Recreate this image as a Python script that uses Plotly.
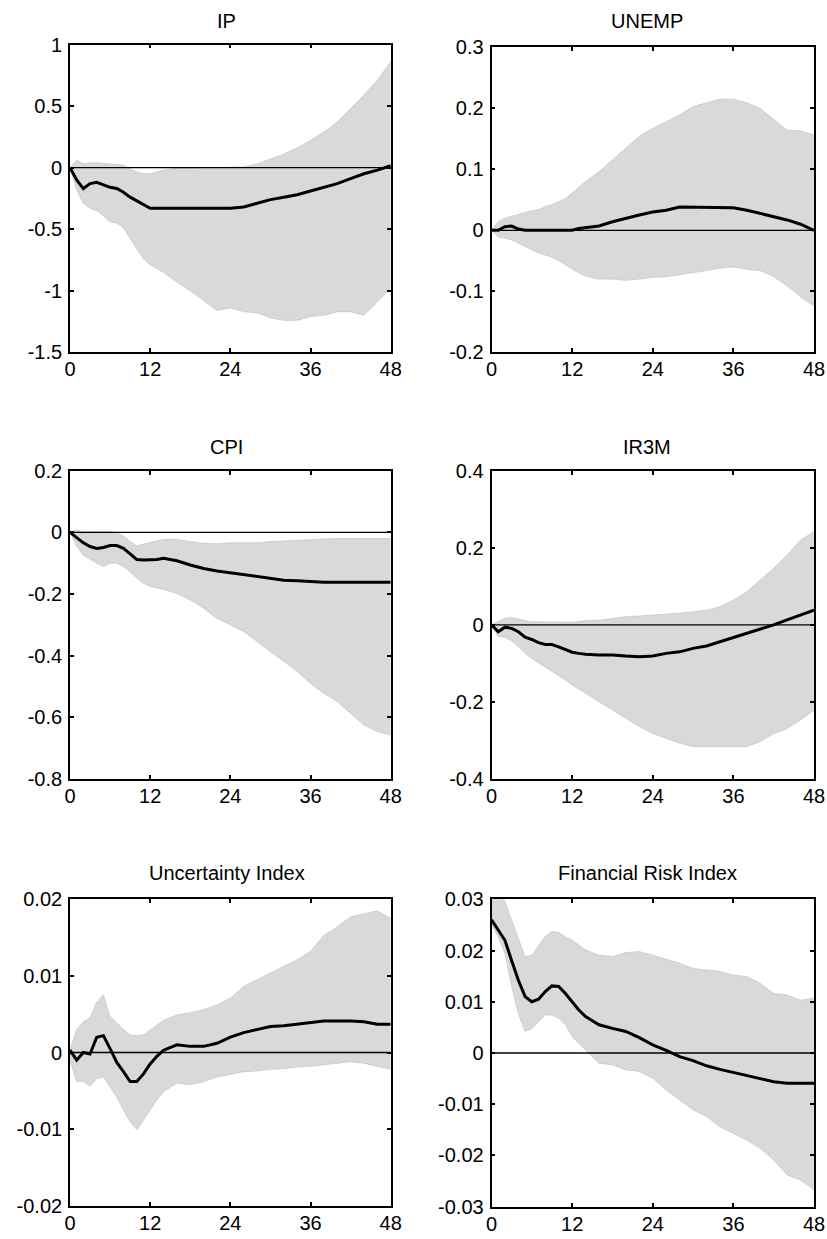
import plotly.graph_objects as go

# Forecast horizon (months)
HORIZON = list(range(0, 15)) + list(range(16, 49, 2))

# ---- IP ----
IP_IRF = [0, -0.10, -0.17, -0.13, -0.12, -0.14, -0.16, -0.17, -0.20, -0.24, -0.27, -0.30, -0.33, -0.33, -0.33,
          -0.33, -0.33, -0.33, -0.33, -0.33, -0.32, -0.29, -0.26, -0.24, -0.22, -0.19, -0.16, -0.13, -0.09, -0.05, -0.02, 0.015]
IP_UP = [0, 0.06, 0.03, 0.04, 0.04, 0.035, 0.03, 0.025, 0.02, -0.01, -0.035, -0.05, -0.05, -0.035, -0.02,
         -0.005, 0.0, 0.0, 0.0, 0.0, 0.005, 0.03, 0.07, 0.11, 0.16, 0.22, 0.29, 0.37, 0.48, 0.59, 0.71, 0.86]
IP_LO = [0, -0.18, -0.29, -0.33, -0.35, -0.39, -0.44, -0.45, -0.49, -0.58, -0.66, -0.74, -0.79, -0.82, -0.85,
         -0.93, -1.00, -1.08, -1.16, -1.14, -1.17, -1.18, -1.22, -1.24, -1.24, -1.21, -1.20, -1.17, -1.17, -1.20, -1.09, -0.98]

# ---- UNEMP ----
UN_IRF = [0, 0.0, 0.006, 0.007, 0.002, 0, 0, 0, 0, 0, 0, 0, 0, 0.003, 0.004,
          0.007, 0.014, 0.020, 0.025, 0.030, 0.033, 0.038, 0.038, 0.038, 0.038, 0.037, 0.033, 0.028, 0.022, 0.017, 0.010, 0.0]
UN_UP = [0, 0.014, 0.020, 0.023, 0.027, 0.029, 0.032, 0.034, 0.039, 0.042, 0.047, 0.052, 0.061, 0.070, 0.080,
         0.096, 0.115, 0.134, 0.154, 0.167, 0.178, 0.189, 0.203, 0.209, 0.215, 0.215, 0.209, 0.200, 0.182, 0.164, 0.163, 0.156]
UN_LO = [0, -0.011, -0.013, -0.016, -0.021, -0.027, -0.032, -0.037, -0.040, -0.044, -0.050, -0.057, -0.064, -0.070, -0.075,
         -0.080, -0.080, -0.082, -0.080, -0.077, -0.076, -0.073, -0.070, -0.066, -0.062, -0.060, -0.064, -0.066, -0.076, -0.091, -0.109, -0.124]

# ---- CPI ----
CPI_IRF = [0, -0.016, -0.034, -0.046, -0.052, -0.049, -0.043, -0.043, -0.052, -0.070, -0.088, -0.090, -0.090, -0.088, -0.084,
           -0.092, -0.106, -0.117, -0.125, -0.131, -0.136, -0.142, -0.149, -0.155, -0.157, -0.160, -0.162, -0.162, -0.162, -0.162, -0.162, -0.162]
CPI_UP = [0, 0.008, 0.002, 0.002, 0.004, 0.004, 0.004, -0.001, -0.012, -0.030, -0.044, -0.038, -0.034, -0.028, -0.023,
          -0.023, -0.030, -0.036, -0.037, -0.034, -0.034, -0.034, -0.030, -0.028, -0.025, -0.025, -0.023, -0.020, -0.020, -0.020, -0.020, -0.020]
CPI_LO = [0, -0.046, -0.074, -0.088, -0.100, -0.111, -0.100, -0.100, -0.111, -0.128, -0.149, -0.165, -0.176, -0.180, -0.185,
          -0.198, -0.219, -0.246, -0.279, -0.300, -0.322, -0.354, -0.386, -0.419, -0.451, -0.490, -0.522, -0.549, -0.587, -0.625, -0.646, -0.657]

# ---- IR3M ----
IR_IRF = [0, -0.018, -0.006, -0.009, -0.018, -0.032, -0.038, -0.046, -0.051, -0.051, -0.057, -0.064, -0.071, -0.074, -0.076,
          -0.078, -0.078, -0.081, -0.083, -0.081, -0.074, -0.070, -0.061, -0.055, -0.044, -0.035, -0.022, -0.012, 0.0, 0.013, 0.025, 0.038]
IR_UP = [0, 0.008, 0.017, 0.019, 0.014, 0.011, 0.008, 0.008, 0.007, 0.007, 0.008, 0.007, 0.006, 0.009, 0.011,
         0.012, 0.017, 0.021, 0.023, 0.025, 0.028, 0.030, 0.034, 0.038, 0.047, 0.064, 0.086, 0.116, 0.147, 0.181, 0.220, 0.242]
IR_LO = [0, -0.031, -0.032, -0.041, -0.057, -0.074, -0.087, -0.098, -0.108, -0.119, -0.130, -0.143, -0.156, -0.167, -0.178,
         -0.199, -0.221, -0.243, -0.264, -0.282, -0.295, -0.307, -0.316, -0.316, -0.316, -0.316, -0.316, -0.303, -0.282, -0.269, -0.247, -0.221]

# ---- Uncertainty Index ----
UI_IRF = [0.0003, -0.001, 0.0, -0.0002, 0.0020, 0.0022, 0.0005, -0.0013, -0.0025, -0.0038, -0.0038, -0.0028, -0.0015, -0.0005, 0.0003,
          0.0010, 0.0008, 0.0008, 0.0012, 0.0020, 0.0026, 0.0030, 0.0034, 0.0035, 0.0037, 0.0039, 0.0041, 0.0041, 0.0041, 0.0040, 0.0037, 0.0037]
UI_UP = [0.0003, 0.0030, 0.0040, 0.0045, 0.0066, 0.0075, 0.0047, 0.0038, 0.0030, 0.0023, 0.0022, 0.0023, 0.0029, 0.0036, 0.0042,
         0.0049, 0.0052, 0.0056, 0.0062, 0.0071, 0.0086, 0.0095, 0.0104, 0.0112, 0.0121, 0.0132, 0.0153, 0.0164, 0.0177, 0.0181, 0.0185, 0.0175]
UI_LO = [-0.001, -0.0038, -0.0038, -0.0044, -0.0034, -0.0032, -0.0045, -0.0058, -0.0075, -0.0090, -0.0101, -0.0088, -0.0075, -0.0062, -0.0051,
         -0.0040, -0.0042, -0.0038, -0.0032, -0.0028, -0.0025, -0.0024, -0.0022, -0.0021, -0.0019, -0.0018, -0.0016, -0.0014, -0.0012, -0.0014, -0.0018, -0.0022]

# ---- Financial Risk Index ----
FR_IRF = [0.026, 0.024, 0.022, 0.018, 0.0142, 0.011, 0.010, 0.0105, 0.012, 0.0131, 0.013, 0.0116, 0.010, 0.0084, 0.0071,
          0.0055, 0.0048, 0.0042, 0.0030, 0.0016, 0.0005, -0.0007, -0.0015, -0.0025, -0.0032, -0.0038, -0.0045, -0.0051, -0.0056, -0.0059, -0.0059, -0.0059]
FR_UP = [0.033, 0.032, 0.0295, 0.026, 0.0224, 0.0188, 0.0191, 0.0208, 0.0227, 0.0237, 0.0235, 0.0227, 0.022, 0.0211, 0.0201,
         0.0191, 0.0188, 0.0196, 0.0198, 0.0191, 0.0183, 0.0175, 0.0165, 0.0162, 0.0159, 0.0152, 0.0149, 0.0136, 0.0116, 0.0113, 0.0103, 0.0107]
FR_LO = [0.025, 0.0227, 0.0195, 0.013, 0.0077, 0.0042, 0.0048, 0.0061, 0.0074, 0.0074, 0.0068, 0.0055, 0.0032, 0.0019, 0.0006,
         -0.0020, -0.0023, -0.0033, -0.0036, -0.0049, -0.0072, -0.0092, -0.0111, -0.0124, -0.0144, -0.0157, -0.0170, -0.0186, -0.0209, -0.0238, -0.0248, -0.0267]

TITLES = ["IP", "UNEMP", "CPI", "IR3M", "Uncertainty Index", "Financial Risk Index"]
X_TICKS = [0, 12, 24, 36, 48]
Y_TICKS = [
    ([1, 0.5, 0, -0.5, -1, -1.5], ["1", "0.5", "0", "-0.5", "-1", "-1.5"]),
    ([0.3, 0.2, 0.1, 0, -0.1, -0.2], ["0.3", "0.2", "0.1", "0", "-0.1", "-0.2"]),
    ([0.2, 0, -0.2, -0.4, -0.6, -0.8], ["0.2", "0", "-0.2", "-0.4", "-0.6", "-0.8"]),
    ([0.4, 0.2, 0, -0.2, -0.4], ["0.4", "0.2", "0", "-0.2", "-0.4"]),
    ([0.02, 0.01, 0, -0.01, -0.02], ["0.02", "0.01", "0", "-0.01", "-0.02"]),
    ([0.03, 0.02, 0.01, 0, -0.01, -0.02, -0.03], ["0.03", "0.02", "0.01", "0", "-0.01", "-0.02", "-0.03"]),
]
Y_RANGES = [[-1.5, 1], [-0.2, 0.3], [-0.8, 0.2], [-0.4, 0.4], [-0.02, 0.02], [-0.03, 0.03]]
SERIES = [(IP_IRF, IP_UP, IP_LO), (UN_IRF, UN_UP, UN_LO), (CPI_IRF, CPI_UP, CPI_LO),
          (IR_IRF, IR_UP, IR_LO), (UI_IRF, UI_UP, UI_LO), (FR_IRF, FR_UP, FR_LO)]

W, H = 827, 1239
# panel boxes in pixels: left, right, top, bottom
BOXES = [
    (70, 390.7, 44.5, 352.3), (491.5, 814, 47.3, 352.3),
    (70, 390.7, 470.7, 779), (491.5, 814, 470.7, 779),
    (70, 390.7, 899.3, 1205.7), (491.5, 814, 899.3, 1206.7),
]
TITLE_POS = [(226, 20.7), (647, 20.7), (226.5, 446.7), (647, 447.3), (226.5, 873.3), (647, 873.3)]

FONT = "Liberation Sans, Arial, sans-serif"
BAND = "#d9d9d9"
TICK_SIZE = 20
TITLE_SIZE = 20

fig = go.Figure()
layout = dict(template="none", width=W, height=H, margin=dict(l=0, r=0, t=0, b=0, pad=0),
              paper_bgcolor="white", plot_bgcolor="white", showlegend=False,
              font=dict(family=FONT, size=TICK_SIZE, color="black"))
annotations = []

for i, (irf, up, lo) in enumerate(SERIES):
    n = i + 1
    xa = "x" if n == 1 else f"x{n}"
    ya = "y" if n == 1 else f"y{n}"
    # confidence band
    fig.add_trace(go.Scatter(x=HORIZON, y=up, mode="lines", xaxis=xa, yaxis=ya,
                             line=dict(color="#c8c8c8", width=0.8), hoverinfo="skip"))
    fig.add_trace(go.Scatter(x=HORIZON, y=lo, mode="lines", xaxis=xa, yaxis=ya,
                             line=dict(color="#c8c8c8", width=0.8), fill="tonexty",
                             fillcolor=BAND, hoverinfo="skip"))
    # zero reference line
    fig.add_trace(go.Scatter(x=[X_TICKS[0], X_TICKS[-1]], y=[0, 0], mode="lines", xaxis=xa, yaxis=ya,
                             line=dict(color="black", width=1.3), hoverinfo="skip"))
    # impulse response
    fig.add_trace(go.Scatter(x=HORIZON, y=irf, mode="lines", xaxis=xa, yaxis=ya,
                             line=dict(color="black", width=3)))

    l, r, t, b = BOXES[i]
    axis_common = dict(showline=True, linecolor="black", linewidth=1.7, mirror="ticks",
                       ticks="inside", ticklen=4, tickwidth=1.5, tickcolor="black",
                       showgrid=False, zeroline=False, automargin=False,
                       tickfont=dict(family=FONT, size=TICK_SIZE, color="black"))
    layout["xaxis" if n == 1 else f"xaxis{n}"] = dict(
        axis_common, domain=[l / W, r / W], range=[0, 48], tickvals=X_TICKS,
        anchor=ya, ticklabelstandoff=-2)
    tv, tt = Y_TICKS[i]
    layout["yaxis" if n == 1 else f"yaxis{n}"] = dict(
        axis_common, domain=[1 - b / H, 1 - t / H], range=Y_RANGES[i],
        tickvals=tv, ticktext=tt, anchor=xa, ticklabelstandoff=2)
    tx, ty = TITLE_POS[i]
    annotations.append(dict(text=TITLES[i], x=tx / W, y=1 - ty / H, xref="paper", yref="paper",
                            xanchor="center", yanchor="middle", showarrow=False,
                            font=dict(family=FONT, size=TITLE_SIZE, color="black")))

layout["annotations"] = annotations
fig.update_layout(**layout)
fig.write_html("out.html")
